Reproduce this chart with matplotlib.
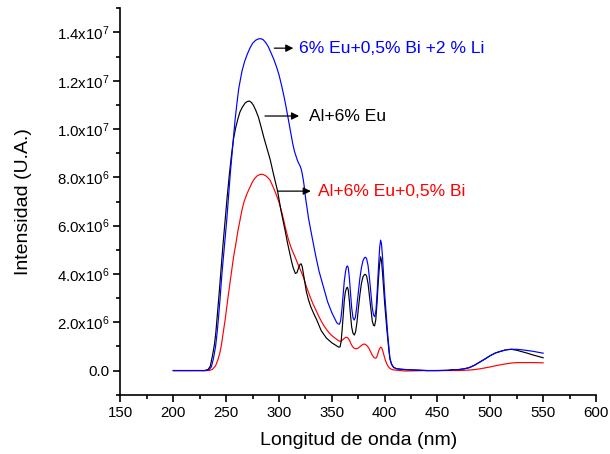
import matplotlib
matplotlib.use("Agg")
import matplotlib.pyplot as plt
from matplotlib.ticker import MultipleLocator, FuncFormatter

plt.rcParams['font.family'] = ['Liberation Sans', 'DejaVu Sans']
plt.rcParams['mathtext.fontset'] = 'custom'
plt.rcParams['mathtext.rm'] = 'Liberation Sans'
plt.rcParams['mathtext.default'] = 'regular'

# Emission spectra (wavelength in nm, intensity in units of 1e6)
wl_li = [200, 230, 234, 236, 238, 240, 241.3, 242.6, 244.3, 246, 248.3, 250.5, 252.3, 254,
         256.2, 258.4, 260.3, 262, 265, 267.5, 270, 272.5, 275, 278, 281, 283, 285, 287.5,
         290, 292.5, 295, 297.5, 300, 302.5, 305, 307, 309, 311, 313, 314.5, 316, 317.3,
         318.5, 320, 321, 322, 323, 324, 325, 326.5, 328, 331, 335, 338, 342, 346, 350,
         354.7, 356, 357.2, 358.3, 359.5, 360.7, 361.8, 363, 364, 364.8, 365.6, 366.6,
         367.7, 368.8, 370, 371.1, 372.3, 373.5, 375, 376.5, 378, 379.5, 381, 382, 383,
         384.3, 385.7, 387, 388.3, 389.5, 390.7, 391.8, 393, 394.2, 395.3, 396.2, 397, 398,
         399, 400, 401, 402, 403, 404, 405, 406.5, 408.4, 411, 415, 420, 430, 440, 450, 460,
         465, 470, 475, 480, 485, 490, 495, 500, 505, 510, 515, 520, 525, 530, 535, 540,
         545, 550]
int_li = [0, 0, 0.05, 0.15, 0.5, 1.0, 1.5, 2.1, 3.0, 4.0, 5.1, 6.2, 7.2, 8.2,
          9.3, 10.36, 11.1, 11.7, 12.4, 12.8, 13.1, 13.35, 13.55, 13.68, 13.74, 13.74, 13.7,
          13.58, 13.4, 13.15, 12.9, 12.6, 12.25, 11.8, 11.3, 10.85, 10.36, 9.85, 9.4, 9.1,
          8.9, 8.72, 8.6, 8.47, 8.35, 8.15, 7.9, 7.6, 7.2, 6.75, 6.3, 5.6, 4.7, 4.1, 3.47,
          2.85, 2.4, 1.98, 1.93, 1.92, 2.05, 2.5, 3.1, 3.7, 4.1, 4.3, 4.33, 4.25, 3.85, 3.2,
          2.6, 2.2, 2.09, 2.2, 2.6, 3.2, 3.8, 4.25, 4.55, 4.68, 4.69, 4.62, 4.35, 3.8, 3.2,
          2.6, 2.3, 2.23, 2.5, 3.3, 4.3, 5.1, 5.4, 5.25, 4.7, 3.95, 3.2, 2.6, 2.0, 1.45,
          0.95, 0.5, 0.28, 0.14, 0.08, 0.06, 0.04, 0.02, 0.0, 0.0, 0.01, 0.04, 0.04, 0.07,
          0.12, 0.22, 0.35, 0.48, 0.62, 0.73, 0.8, 0.86, 0.88, 0.88, 0.86, 0.83, 0.8, 0.76,
          0.72]

wl_eu = [200, 230, 233, 235, 237, 239, 240.3, 241.5, 243.3, 245, 247, 249, 251, 253, 255,
         257, 259, 261, 263, 265, 266, 268, 270, 272, 274, 276, 278, 280.5, 283, 286, 289,
         291.6, 295, 298.7, 302, 305.8, 308, 310, 312, 313.5, 315.5, 317, 318.5, 320, 321,
         322, 323, 324.5, 326, 327.8, 330, 333, 335.7, 340, 345, 350, 354.7, 356.5, 357.8,
         358.8, 359.8, 360.8, 361.8, 362.8, 364, 364.8, 365.6, 366.6, 367.7, 368.8, 370,
         371.3, 372.5, 373.8, 375.2, 376.6, 378, 379.5, 381, 382, 383, 384.3, 385.7, 387,
         388.3, 389.5, 390.5, 391.6, 392.8, 394, 395.2, 396.2, 397, 398, 399, 400, 401, 402,
         403, 404, 405, 406.5, 408.4, 411, 415, 420, 430, 440, 450, 460, 465, 470, 475, 480,
         485, 490, 495, 500, 505, 510, 515, 520, 525, 530, 535, 540, 545, 550]
int_eu = [0, 0, 0.05, 0.18, 0.6, 1.1, 1.6, 2.2, 3.15, 4.1, 5.2, 6.2, 7.2, 8.1, 8.9,
          9.6, 10.05, 10.4, 10.7, 10.88, 10.95, 11.08, 11.14, 11.16, 11.1, 10.97, 10.78, 10.5,
          10.1, 9.6, 9.15, 8.75, 8.1, 7.43, 6.6, 5.8, 5.3, 4.9, 4.5, 4.25, 4.02, 4.05, 4.25,
          4.4, 4.42, 4.3, 4.05, 3.65, 3.25, 2.95, 2.65, 2.35, 2.1, 1.65, 1.34, 1.15, 1.02,
          0.97, 0.98, 1.2, 1.7, 2.3, 2.9, 3.25, 3.42, 3.45, 3.33, 2.9, 2.3, 1.8, 1.55, 1.47,
          1.6, 2.0, 2.6, 3.15, 3.6, 3.88, 3.98, 3.98, 3.9, 3.6, 3.05, 2.5, 2.05, 1.87, 1.85,
          2.1, 2.8, 3.7, 4.4, 4.71, 4.55, 4.05, 3.4, 2.8, 2.25, 1.75, 1.3, 0.85, 0.48, 0.26,
          0.13, 0.08, 0.05, 0.04, 0.02, 0.0, 0.0, 0.01, 0.04, 0.04, 0.07, 0.12, 0.22, 0.35,
          0.48, 0.62, 0.73, 0.8, 0.86, 0.88, 0.84, 0.78, 0.72, 0.65, 0.59, 0.53]

wl_bi = [200, 234, 237, 240, 242, 244, 245.5, 247, 249, 250.5, 252, 253.7, 255.3, 257, 259,
         261, 263, 265, 267, 270, 272.6, 275, 277, 279, 281, 283, 285, 288, 290, 291.6, 295,
         297, 299.4, 301, 303, 305, 307.4, 309, 311, 313, 315.2, 317.5, 320, 323, 326, 329.4,
         332, 335, 337.5, 340, 342.5, 345, 347.5, 350, 352.5, 355, 357, 358.5, 360, 362,
         363.5, 365, 366.5, 368, 369.5, 371, 373, 375, 377, 379, 380.5, 382, 383.5, 385,
         386.5, 388, 389.5, 391, 392.2, 393.3, 394.5, 395.5, 396.4, 397.2, 398.2, 399.2,
         400.5, 402, 403.5, 405, 407, 410, 420, 440, 460, 470, 480, 485, 490, 495, 500, 505,
         510, 515, 520, 525, 530, 540, 550]
int_bi = [0, 0, 0.05, 0.2, 0.42, 0.72, 1.05, 1.5, 2.09, 2.6, 3.1, 3.65, 4.16, 4.7, 5.2,
          5.75, 6.2, 6.65, 7.0, 7.35, 7.6, 7.82, 7.95, 8.05, 8.1, 8.13, 8.12, 8.05, 7.96,
          7.88, 7.55, 7.33, 7.05, 6.82, 6.5, 6.12, 5.68, 5.42, 5.15, 4.92, 4.71, 4.45, 4.2,
          3.88, 3.47, 3.06, 2.78, 2.5, 2.26, 2.05, 1.86, 1.7, 1.56, 1.45, 1.36, 1.28, 1.22,
          1.21, 1.26, 1.34, 1.38, 1.36, 1.27, 1.12, 1.0, 0.93, 0.9, 0.93, 1.0, 1.07, 1.1,
          1.08, 1.02, 0.93, 0.8, 0.66, 0.56, 0.51, 0.53, 0.65, 0.83, 0.93, 0.97, 0.94, 0.82,
          0.66, 0.45, 0.28, 0.16, 0.09, 0.04, 0.02, -0.02, 0.0, 0.0, 0.0, 0.02, 0.04, 0.07,
          0.11, 0.15, 0.2, 0.24, 0.28, 0.31, 0.33, 0.33, 0.33, 0.32]

# label, wavelengths, intensities, colour, (arrow start, arrow end, arrow level, text x)
series = [
    ("6% Eu+0,5% Bi +2 % Li", wl_li, int_li, "#0000ff", (295.6, 313.6, 13.35, 319.3)),
    ("Al+6% Eu", wl_eu, int_eu, "black", (286.8, 319.0, 10.54, 328.5)),
    ("Al+6% Eu+0,5% Bi", wl_bi, int_bi, "#ff0000", (298.5, 330.1, 7.43, 336.7)),
]

SCALE = 1e6

fig = plt.figure(figsize=(6.1, 4.54), dpi=100)
ax = fig.add_axes([0.1975, 0.1306, 0.7795, 0.8511])

# red first, then black, blue on top
for name, wl, vals, color, _ in reversed(series):
    ax.plot(wl, [v * SCALE for v in vals], color=color, lw=0.85)

for name, wl, vals, color, (x0, x1, ya, xt) in series:
    ax.annotate("", xy=(x1, ya * SCALE), xytext=(x0, ya * SCALE),
                arrowprops=dict(arrowstyle='-|>', color='black', lw=0.9,
                                mutation_scale=11, shrinkA=0, shrinkB=0))
    ax.text(xt, ya * SCALE, name, color=color, fontsize=12.6, ha='left', va='center')

ax.set_xlim(150, 600)
ax.set_ylim(-1e6, 1.5e7)
ax.xaxis.set_major_locator(MultipleLocator(50))
ax.xaxis.set_minor_locator(MultipleLocator(25))
ax.yaxis.set_major_locator(MultipleLocator(2e6))
ax.yaxis.set_minor_locator(MultipleLocator(1e6))


def sci_fmt(v, pos):
    if abs(v) < 1:
        return "0.0"
    exp = 0
    m = v
    while abs(m) >= 10:
        m /= 10
        exp += 1
    return "%.1fx10$^{%d}$" % (m, exp)


ax.yaxis.set_major_formatter(FuncFormatter(sci_fmt))

for side in ('top', 'right'):
    ax.spines[side].set_visible(False)
for side in ('left', 'bottom'):
    ax.spines[side].set_linewidth(1.2)

ax.tick_params(which='major', direction='out', length=5, width=1.2, labelsize=10.8, pad=3)
ax.tick_params(which='minor', direction='out', length=3, width=1.2)

ax.set_xlabel("Longitud de onda (nm)", fontsize=14, labelpad=9)
ax.set_ylabel("Intensidad (U.A.)", fontsize=14, labelpad=18)

fig.savefig("out.png", dpi=100)
